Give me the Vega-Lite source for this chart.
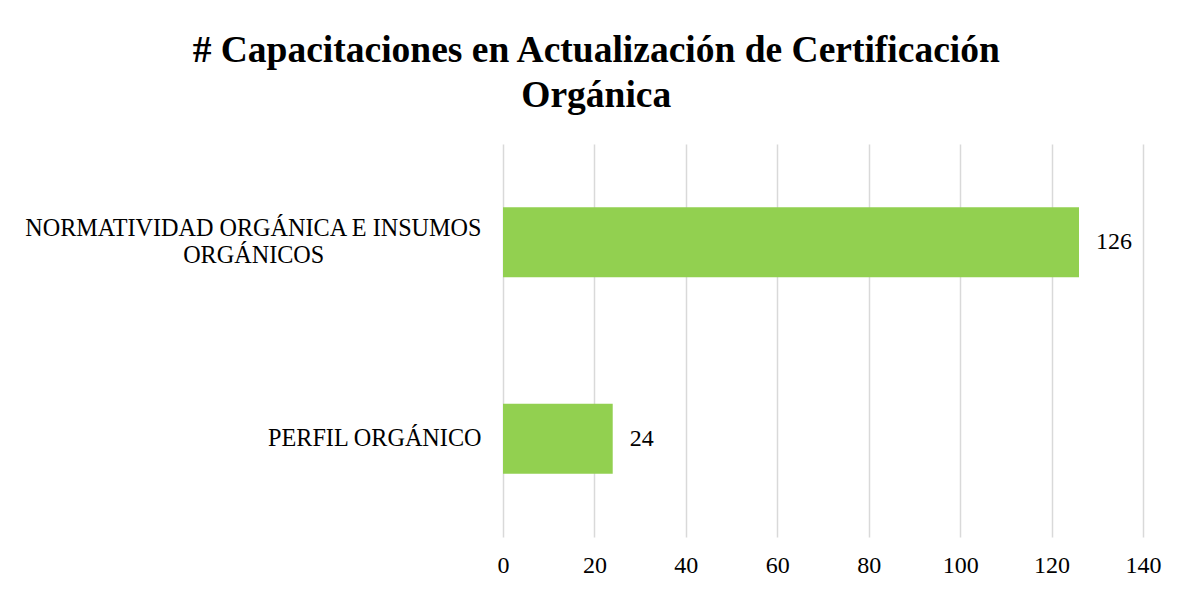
{
  "$schema": "https://vega.github.io/schema/vega-lite/v6.json",
  "width": 640,
  "height": 393,
  "autosize": "none",
  "padding": {"left": 503, "top": 144, "right": 42, "bottom": 56},
  "background": "white",
  "title": {
    "text": ["# Capacitaciones en Actualización de Certificación", "Orgánica"],
    "font": "Liberation Serif",
    "fontSize": 37.5,
    "fontWeight": "bold",
    "color": "black",
    "anchor": "middle",
    "frame": "bounds",
    "lineHeight": 45,
    "offset": 30,
    "dx": 4
  },
  "data": {
    "values": [
      {"categoria": "NORMATIVIDAD ORGÁNICA E INSUMOS ORGÁNICOS", "capacitaciones": 126},
      {"categoria": "PERFIL ORGÁNICO", "capacitaciones": 24}
    ]
  },
  "encoding": {
    "y": {
      "field": "categoria",
      "type": "nominal",
      "sort": null,
      "title": null,
      "scale": {"paddingInner": 0.644, "paddingOuter": 0.322},
      "axis": {
        "domain": false,
        "ticks": false,
        "grid": false,
        "labelFont": "Liberation Serif",
        "labelFontSize": 24.2,
        "labelColor": "black",
        "labelPadding": 22,
        "labelLimit": 0,
        "labelLineHeight": 27,
        "labelOffset": {"condition": {"test": "datum.value == 'NORMATIVIDAD ORGÁNICA E INSUMOS ORGÁNICOS'", "value": -13}, "value": 0},
        "labelExpr": "datum.label == 'NORMATIVIDAD ORGÁNICA E INSUMOS ORGÁNICOS' ? ['NORMATIVIDAD ORGÁNICA E INSUMOS', 'ORGÁNICOS\u00a0\u00a0\u00a0\u00a0\u00a0\u00a0\u00a0\u00a0\u00a0\u00a0\u00a0\u00a0\u00a0\u00a0\u00a0\u00a0\u00a0\u00a0\u00a0\u00a0\u00a0\u00a0\u00a0\u00a0\u00a0\u00a0\u200b'] : datum.label"
      }
    },
    "x": {
      "field": "capacitaciones",
      "type": "quantitative",
      "title": null,
      "scale": {"domain": [0, 140], "nice": false},
      "axis": {
        "values": [0, 20, 40, 60, 80, 100, 120, 140],
        "domain": false,
        "ticks": false,
        "grid": true,
        "gridColor": "#d9d9d9",
        "gridWidth": 1.5,
        "labelFont": "Liberation Serif",
        "labelFontSize": 24,
        "labelColor": "black",
        "labelPadding": 16,
        "labelFlush": false
      }
    }
  },
  "layer": [
    {"mark": {"type": "bar", "color": "#92d050"}},
    {
      "mark": {
        "type": "text",
        "align": "left",
        "baseline": "middle",
        "dx": 17,
        "font": "Liberation Serif",
        "fontSize": 24,
        "color": "black"
      },
      "encoding": {"text": {"field": "capacitaciones", "type": "quantitative"}}
    }
  ],
  "config": {"view": {"stroke": null}}
}
